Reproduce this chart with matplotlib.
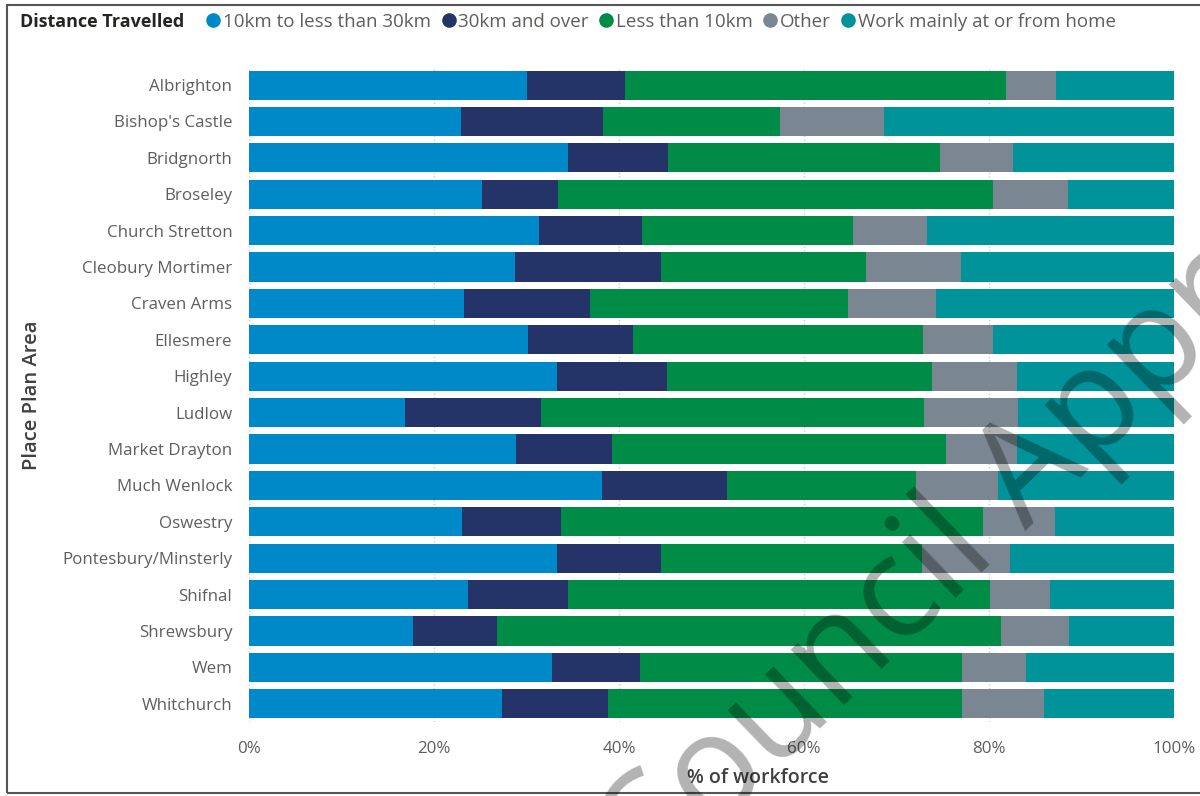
import numpy as np
import matplotlib
matplotlib.use("Agg")
import matplotlib.pyplot as plt
from matplotlib.lines import Line2D
from matplotlib.patches import Rectangle
from matplotlib.ticker import FuncFormatter

plt.rcParams['font.family'] = ['Open Sans', 'DejaVu Sans']

areas = ["Albrighton", "Bishop's Castle", "Bridgnorth", "Broseley", "Church Stretton",
         "Cleobury Mortimer", "Craven Arms", "Ellesmere", "Highley", "Ludlow",
         "Market Drayton", "Much Wenlock", "Oswestry", "Pontesbury/Minsterly",
         "Shifnal", "Shrewsbury", "Wem", "Whitchurch"]

km10_30 = [30.1, 22.9, 34.5, 25.2, 31.4, 28.8, 23.2, 30.2, 33.3, 16.9, 28.9, 38.2, 23.0, 33.3, 23.7, 17.7, 32.8, 27.4]
km30_up = [10.6, 15.4, 10.8, 8.2, 11.1, 15.7, 13.7, 11.3, 11.9, 14.7, 10.3, 13.5, 10.7, 11.2, 10.8, 9.1, 9.5, 11.4]
under10 = [41.1, 19.1, 29.4, 47.0, 22.8, 22.2, 27.9, 31.4, 28.6, 41.4, 36.2, 20.4, 45.7, 28.3, 45.6, 54.5, 34.8, 38.3]
other = [5.4, 11.2, 7.9, 8.1, 8.0, 10.3, 9.5, 7.5, 9.2, 10.1, 7.6, 8.9, 7.7, 9.5, 6.5, 7.3, 6.9, 8.8]
home = [12.9, 31.4, 17.4, 11.5, 26.7, 23.0, 25.7, 19.6, 17.0, 16.9, 17.0, 19.0, 12.9, 17.7, 13.4, 11.4, 16.0, 14.1]

series = ["10km to less than 30km", "30km and over", "Less than 10km", "Other", "Work mainly at or from home"]
colors = ["#0089C9", "#243468", "#008C46", "#7A8691", "#009399"]

fig = plt.figure(figsize=(12, 7.96), dpi=100)
ax = fig.add_axes([0.2075, 0.093, 0.7708, 0.823])

y = np.arange(len(areas))
left = np.zeros(len(areas))
for vals, c in zip([km10_30, km30_up, under10, other, home], colors):
    vals = np.array(vals)
    ax.barh(y, vals, left=left, height=0.8, color=c, zorder=2)
    left += vals

ax.set_ylim(len(areas) - 0.5, -0.5)
ax.set_xlim(0, 100)
ax.set_xticks([0, 20, 40, 60, 80, 100])
ax.xaxis.set_major_formatter(FuncFormatter(lambda v, p: f"{v:.0f}%"))
ax.set_yticks(y)
ax.set_yticklabels(areas)
ax.tick_params(axis='both', length=0, labelsize=12.2, labelcolor='#605E5C')
ax.tick_params(axis='x', pad=14)
ax.tick_params(axis='y', pad=12)
for s in ax.spines.values():
    s.set_visible(False)
ax.grid(axis='x', color='#cccccc', linestyle=':', linewidth=1, zorder=0)

fig.text(758 / 1200, 1 - 778 / 796, "% of workforce", fontsize=14, color='#404040',
         fontweight='semibold', ha='center', va='center')
fig.text(32 / 1200, 1 - 395 / 796, "Place Plan Area", rotation=90, fontsize=14.5,
         color='#404040', fontweight='semibold', ha='center', va='center')

# legend
fig.text(20 / 1200, 1 - 22 / 796, "Distance Travelled", fontsize=13, fontweight='bold',
         color='#252423', ha='left', va='center')
handles = [Line2D([], [], marker='o', linestyle='', markersize=9.5, color=c) for c in colors]
fig.legend(handles, series, loc='center left', bbox_to_anchor=(204 / 1200, 1 - 22 / 796),
           ncol=5, frameon=False, fontsize=13.5, handletextpad=0.0, columnspacing=0.45,
           handlelength=1.0, labelcolor='#605E5C', borderaxespad=0, borderpad=0)

# outer frame
fig.patches.append(Rectangle((7 / 1200, 3 / 796), 1.2, 1 - 8 / 796, transform=fig.transFigure,
                             fill=False, edgecolor='#555555', linewidth=1.5))

# watermark
fig.text(648 / 1200, 1 - 895 / 796, "Council Approved", rotation=44, rotation_mode='anchor',
         ha='left', va='baseline', fontsize=102, color='black', alpha=0.3, zorder=10)

fig.savefig("out.png", dpi=100)
